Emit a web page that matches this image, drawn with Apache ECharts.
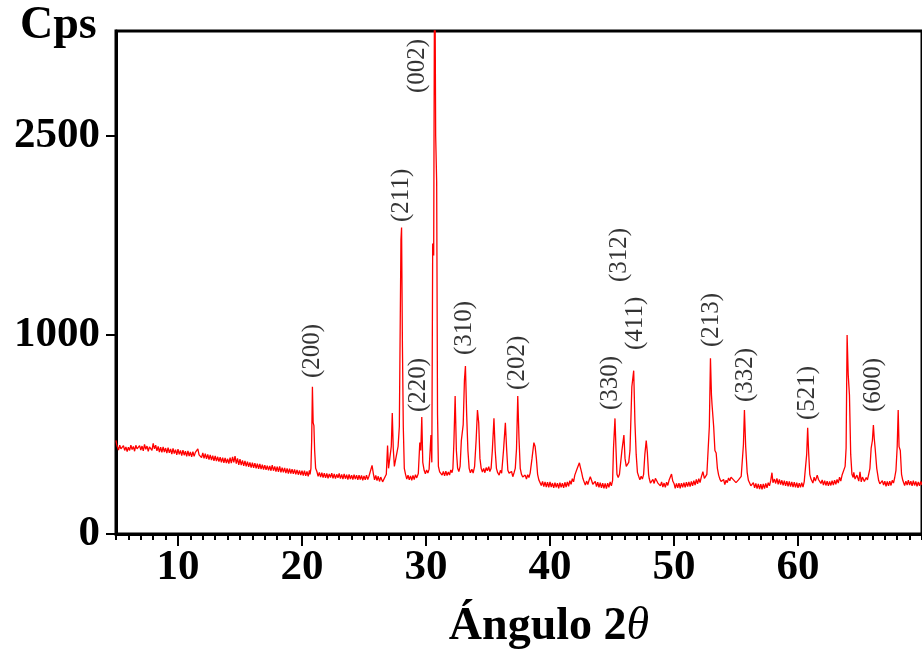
<!DOCTYPE html>
<html><head><meta charset="utf-8">
<script src="https://cdn.jsdelivr.net/npm/echarts@6/dist/echarts.min.js"></script>
<style>html,body{margin:0;padding:0;background:#fff}#c{width:922px;height:652px}</style>
</head><body><div id="c"></div>
<script>
// y tick positions and their printed labels (as in the reference)
const yTickValues = [0, 1000, 2000];
const yTickLabels = ['0', '1000', '2500'];
const xTickValues = [10, 20, 30, 40, 50, 60];

// XRD pattern: [2θ, Cps]
const patternLow = [
[5.0,470],[5.05,452],[5.1,440],[5.2,422],[5.3,446],[5.4,428],[5.5,418],[5.6,444],[5.7,420],[5.8,438],[5.9,414],[6.0,436],[6.1,420],[6.2,446],[6.3,424],[6.4,440],[6.5,416],[6.6,446],[6.7,428],[6.8,418],[6.9,444],[7.0,422],[7.1,442],[7.2,418],[7.3,450],[7.4,426],[7.5,442],[7.6,416],[7.7,438],[7.8,448],[7.9,420],[8.0,456],[8.1,428],[8.2,446],[8.3,418],[8.4,440],[8.5,412],[8.6,436],[8.7,410],[8.8,438],[8.9,412],[9.0,432],[9.1,406],[9.2,434],[9.3,408],[9.4,428],[9.5,402],[9.6,430],[9.7,404],[9.8,424],[9.9,398],[10.0,426],[10.1,400],[10.2,420],[10.3,394],[10.4,422],[10.5,396],[10.6,416],[10.7,390],[10.8,418],[10.9,392],[11.0,412],[11.1,388],[11.2,414],[11.3,390],[11.4,410],[11.5,420],[11.6,428],[11.7,398],[11.8,404],[11.9,384],[12.0,408],[12.1,380],[12.2,404],[12.3,378],[12.4,400],[12.5,374],[12.6,398],[12.7,372],[12.8,394],[12.9,368],[13.0,392],[13.1,366],[13.2,388],[13.3,364],[13.4,386],[13.5,360],[13.6,384],[13.7,358],[13.8,382],[13.9,356],[14.0,378],[14.1,354],[14.2,384],[14.3,356],[14.4,388],[14.5,360],[14.6,392],[14.7,354],[14.8,380],[14.9,348],[15.0,376],[15.1,346],[15.2,370],[15.3,342],[15.4,368],[15.5,340],[15.6,364],[15.7,338],[15.8,360],[15.9,334],[16.0,358],[16.1,332],[16.2,356],[16.3,330],[16.4,354],[16.5,328],[16.6,352],[16.7,326],[16.8,348],[16.9,324],[17.0,346],[17.1,322],[17.2,344],[17.3,320],[17.4,342],[17.5,318],[17.6,346],[17.7,318],[17.8,340],[17.9,314],[18.0,338],[18.1,312],[18.2,340],[18.3,310],[18.4,334],[18.5,310],[18.6,332],[18.7,306],[18.8,330],[18.9,304],[19.0,328],[19.1,304],[19.2,326],[19.3,302],[19.4,324],[19.5,300],[19.6,322],[19.7,298],[19.8,320],[19.9,296],[20.0,318],[20.1,294],[20.2,318],[20.3,292],[20.4,314],[20.5,290],[20.6,320],[20.65,300]
];
const patternMid = [
[20.72,330],[20.78,470],[20.84,740],[20.9,560],[20.96,545],[21.02,420],[21.1,330],[21.2,314],[21.3,290],[21.4,310],[21.5,286],[21.6,308],[21.7,284],[21.8,306],[21.9,282],[22.0,304],[22.1,280],[22.2,302],[22.3,284],[22.4,306],[22.5,280],[22.6,302],[22.7,278],[22.8,300],[22.9,282],[23.0,304],[23.1,278],[23.2,300],[23.3,276],[23.4,302],[23.5,278],[23.6,298],[23.7,274],[23.8,300],[23.9,276],[24.0,296],[24.1,274],[24.2,298],[24.3,276],[24.4,296],[24.5,272],[24.6,296],[24.7,274],[24.8,294],[24.9,270],[25.0,292],[25.1,272],[25.2,296],[25.3,274],[25.4,290],[25.55,300],[25.65,345],[25.75,305],[25.85,272],[25.95,294],[26.05,268],[26.15,290],[26.25,264],[26.35,286],[26.5,262],[26.65,256],[26.8,300],[26.9,445],[26.98,330],[27.08,340],[27.2,440],[27.28,608],[27.36,430],[27.45,340],[27.6,345],[27.75,440],[27.85,540],[27.98,1480],[28.03,1540],[28.1,940],[28.17,535],[28.25,330],[28.35,300],[28.45,276],[28.55,296],[28.65,272],[28.75,292],[28.85,270],[28.95,294],[29.05,274],[29.15,298],[29.25,282],[29.38,304],[29.5,460],[29.58,420],[29.66,588],[29.74,360],[29.85,320],[29.95,302],[30.05,322],[30.15,306],[30.25,326],[30.32,330],[30.4,497],[30.47,360],[30.54,1460],[30.62,1400],[30.7,3100],[30.78,2000],[30.86,1770],[30.93,600],[31.0,340],[31.1,312],
[31.2,322],[31.3,296],[31.4,314],[31.5,292],[31.6,316],[31.7,294],[31.8,312],[31.9,296],[32.0,322],[32.1,308],[32.17,330],[32.25,460],[32.35,693],[32.45,420],[32.55,330],[32.65,314],[32.75,340],[32.85,470],[33.0,550],[33.1,774],[33.18,844],[33.28,600],[33.38,420],[33.48,330],[33.58,308],[33.7,326],[33.8,306],[33.92,340],[34.05,480],[34.15,623],[34.25,560],[34.35,380],[34.45,330],[34.55,312],[34.65,330],[34.75,308],[34.85,334],[34.95,318],[35.06,338],[35.15,314],[35.25,330],[35.35,420],[35.48,581],[35.58,420],[35.68,330],[35.78,308],[35.9,296],[36.0,320],[36.1,306],[36.25,420],[36.4,559],[36.5,430],[36.6,320],[36.7,306],[36.8,298],[36.9,314],[37.0,288],[37.1,308],[37.2,330],[37.3,430],[37.4,693],[37.5,480],[37.6,330],[37.7,300],[37.8,286],[37.9,278],[38.0,296],[38.1,276],[38.2,298],[38.3,284],[38.4,306],[38.55,380],[38.7,459],[38.8,440],[38.9,380],[39.0,300],[39.1,272]
];
const patternHigh = [
[39.2,270],[39.3,244],[39.4,264],[39.5,238],[39.6,262],[39.7,236],[39.8,260],[39.9,234],[40.0,262],[40.1,236],[40.2,256],[40.3,232],[40.4,258],[40.5,234],[40.6,256],[40.7,230],[40.8,258],[40.9,234],[41.0,256],[41.1,232],[41.2,260],[41.3,236],[41.4,262],[41.5,240],[41.6,268],[41.7,250],[41.8,278],[41.9,262],[42.0,296],[42.1,300],[42.2,330],[42.3,340],[42.37,358],[42.45,335],[42.55,310],[42.65,280],[42.75,262],[42.85,246],[42.95,266],[43.05,248],[43.15,270],[43.25,288],[43.35,270],[43.45,250],[43.55,242],[43.65,264],[43.75,238],[43.85,260],[43.95,234],[44.05,258],[44.15,232],[44.25,256],[44.35,230],[44.45,254],[44.55,228],[44.65,256],[44.75,234],[44.85,262],[44.95,242],[45.05,270],[45.12,430],[45.24,581],[45.32,430],[45.4,300],[45.5,284],[45.6,300],[45.7,310],[45.8,420],[45.96,497],[46.05,380],[46.15,340],[46.25,330],[46.35,360],[46.45,420],[46.6,740],[46.75,821],[46.85,560],[46.95,400],[47.05,310],[47.15,290],[47.25,272],[47.35,290],[47.45,276],[47.55,300],[47.65,400],[47.76,469],[47.85,410],[47.95,300],[48.0,280],[48.1,256],[48.2,248],[48.3,274],[48.4,254],[48.5,280],[48.6,278],[48.7,256],[48.8,264],[48.9,242],[49.0,262],[49.1,236],[49.2,256],[49.3,234],[49.4,260],[49.5,244],[49.6,270],[49.7,280],[49.8,301],[49.9,266],[50.0,254],[50.1,230],[50.2,254],[50.3,232],[50.4,256],[50.5,230],[50.6,256],[50.7,234],[50.8,258],[50.9,234],[51.0,260],[51.1,238],[51.2,262],[51.3,238],[51.4,264],[51.5,242],[51.6,268],[51.7,246],[51.8,274],[51.9,252],[52.0,278],[52.1,258],[52.2,286],[52.33,313],[52.45,280],[52.55,270],[52.65,300],[52.75,290],[52.85,540],[52.94,883],[53.02,700],[53.07,648],[53.2,539],[53.3,420],[53.4,407],[53.5,330],[53.6,296],[53.7,276],[53.8,264],[53.9,258],[54.0,274],[54.1,248],[54.2,270],[54.3,258],[54.4,282],[54.5,268],[54.6,286],[54.7,288],[54.8,272],[54.9,266],[55.0,258],[55.1,252],[55.2,272],[55.3,266],[55.42,290],[55.5,300],[55.6,450],[55.68,623],[55.78,440],[55.9,310],[56.0,270],[56.1,262],[56.2,242],[56.3,246],[56.4,258],[56.5,232],[56.6,254],[56.7,228],[56.8,252],[56.9,226],[57.0,250],[57.1,224],[57.2,252],[57.3,228],[57.4,254],[57.5,232],[57.6,258],[57.7,242],[57.8,268],[57.9,308],[57.98,258],[58.1,276],[58.2,254],[58.3,280],[58.4,250],[58.5,274],[58.6,248],[58.7,270],[58.8,244],[58.9,268],[59.0,242],[59.1,266],[59.2,240],[59.3,264],[59.4,238],[59.5,262],[59.6,236],[59.7,260],[59.8,234],[59.9,258],[60.0,232],[60.1,256],[60.2,234],[60.3,258],[60.4,236],[60.5,262],[60.6,262],[60.7,400],[60.78,534],[60.86,407],[60.95,300],[61.05,276],[61.1,270],[61.2,256],[61.3,286],[61.4,266],[61.55,296],[61.65,274],[61.75,276],[61.85,254],[61.95,272],[62.05,246],[62.15,268],[62.25,244],[62.35,266],[62.45,242],[62.55,264],[62.65,244],[62.75,268],[62.85,246],[62.95,270],[63.05,250],[63.15,274],[63.25,256],[63.35,286],[63.45,266],[63.55,295],[63.65,300],[63.8,340],[63.88,432],[63.96,1000],[64.05,800],[64.15,698],[64.25,400],[64.35,300],[64.45,284],[64.5,310],[64.6,276],[64.65,272],[64.75,296],[64.8,300],[64.9,266],[65.0,313],[65.1,262],[65.2,286],[65.25,290],[65.35,264],[65.4,258],[65.5,284],[65.6,272],[65.7,300],[65.8,330],[65.9,432],[66.0,470],[66.08,548],[66.15,480],[66.22,432],[66.35,330],[66.5,270],[66.6,252],[66.7,244],[66.8,268],[66.9,246],[67.0,266],[67.1,240],[67.2,264],[67.3,242],[67.4,266],[67.5,244],[67.6,270],[67.7,256],[67.8,284],[67.9,320],[68.0,439],[68.08,623],[68.15,439],[68.25,420],[68.35,300],[68.45,270],[68.5,262],[68.6,244],[68.7,266],[68.8,246],[68.9,270],[69.0,246],[69.1,266],[69.2,242],[69.3,268],[69.4,244],[69.5,264],[69.6,240],[69.7,262],[69.8,242],[69.9,264],[70.0,246]
];

// Miller-index annotations: label text, 2θ, Cps at the label's lower end
const peakNames = ['(200)','(211)','(002)','(220)','(310)','(202)','(330)','(312)','(411)','(213)','(332)','(521)','(600)'];
const peakAngles = [20.86, 28.03, 29.3, 29.35, 33.1, 37.4, 44.9, 45.56, 46.9, 53.0, 55.8, 60.8, 66.1];
const peakLabelCps = [784, 1568, 2216, 613, 899, 724, 623, 1266, 925, 940, 663, 573, 613];

const pattern = patternLow.concat(patternMid, patternHigh);
const serif = '"Liberation Serif","Times New Roman",serif';

const chart = echarts.init(document.getElementById('c'), null, {renderer: 'canvas'});
chart.setOption({
  animation: false,
  backgroundColor: '#fff',
  grid: {left: 116, right: -10, top: 31, bottom: 118, show: true, borderColor: '#000', borderWidth: 3, backgroundColor: 'transparent'},
  xAxis: [
    {type: 'value', min: 5, max: 70, interval: 1, position: 'bottom',
     axisLine: {show: true, onZero: false, lineStyle: {color: '#000', width: 3}},
     axisTick: {show: true, length: 6, lineStyle: {color: '#000', width: 2}},
     axisLabel: {show: false}, splitLine: {show: false}},
    {type: 'value', min: 5, max: 70, position: 'bottom',
     axisLine: {show: false, onZero: false},
     axisTick: {show: true, length: 12, customValues: xTickValues, lineStyle: {color: '#000', width: 2}},
     axisLabel: {show: true, customValues: xTickValues, margin: 12, color: '#000', fontFamily: serif, fontWeight: 'bold', fontSize: 43},
     splitLine: {show: false}}
  ],
  yAxis: {type: 'value', min: 0, max: 2528,
    axisLine: {show: true, onZero: false, lineStyle: {color: '#000', width: 3}},
    axisTick: {show: true, length: 10, customValues: yTickValues, lineStyle: {color: '#000', width: 2}},
    axisLabel: {show: true, customValues: yTickValues, margin: 16, color: '#000', fontFamily: serif, fontWeight: 'bold', fontSize: 43,
      formatter: v => yTickLabels[yTickValues.indexOf(v)] ?? ''},
    splitLine: {show: false}},
  series: [
    {type: 'line', xAxisIndex: 0, data: pattern, showSymbol: false, symbol: 'none', clip: true,
     lineStyle: {color: '#ff0000', width: 1.3}, z: 3},
    {type: 'scatter', xAxisIndex: 0, symbolSize: 1, itemStyle: {color: 'rgba(0,0,0,0)'}, clip: false, z: 4,
     data: peakNames.map((n, i) => ({name: n, value: [peakAngles[i], peakLabelCps[i]]})),
     label: {show: true, formatter: '{b}', position: 'inside', rotate: 90, align: 'left', verticalAlign: 'middle',
       color: '#000', fontFamily: serif, fontSize: 25}}
  ],
  graphic: [
    {type: 'text', left: 20, top: 3, style: {text: 'Cps', font: 'bold 46px ' + serif, fill: '#000'}},
    {type: 'text', x: 549, y: 627, style: {text: '{a|Ángulo 2}{b|θ}', align: 'center', verticalAlign: 'middle',
      rich: {a: {font: 'bold 46px ' + serif, fill: '#000'}, b: {font: 'italic 46px ' + serif, fill: '#000'}}}}
  ]
});
</script></body></html>
